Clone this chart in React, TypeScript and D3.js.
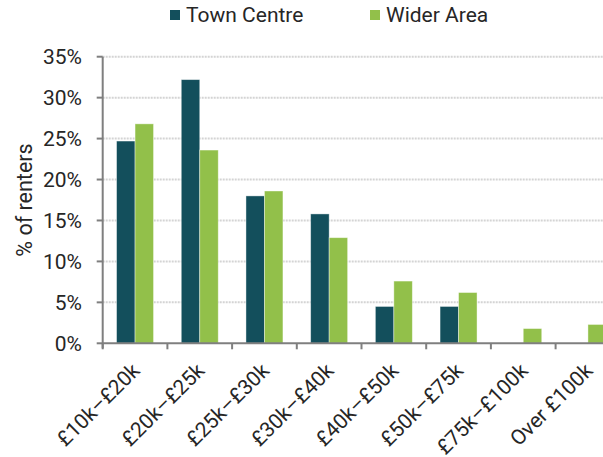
import React from "react";
import * as d3 from "d3";

const categories = ["£10k–£20k", "£20k–£25k", "£25k–£30k", "£30k–£40k", "£40k–£50k", "£50k–£75k", "£75k–£100k", "Over £100k"];
const seriesNames = ["Town Centre", "Wider Area"];
const townCentre = [24.7, 32.2, 18.0, 15.8, 4.5, 4.5, 0, 0];
const widerArea = [26.8, 23.6, 18.6, 12.9, 7.6, 6.2, 1.8, 2.3];
const yTicks = [0, 5, 10, 15, 20, 25, 30, 35];
const colors = ["#134F5C", "#92C04A"];

const W = 603;
const H = 457;
const FONT = "Roboto, 'Noto Sans', sans-serif";
const TEXT = "#262626";
const FS = 21;

export default function App() {
  const x0 = 102.7;
  const plotRight = x0 + 8 * 64.7;
  const y = d3.scaleLinear().domain([0, 35]).range([343.3, 56.7]);
  const x = d3.scaleBand<string>().domain(categories).range([x0, plotRight]).paddingInner(0).paddingOuter(0);
  const xs = d3.scaleBand<string>().domain(seriesNames).range([0, x.bandwidth()]).paddingInner(0).paddingOuter(0.75);
  const data = [townCentre, widerArea];

  return (
    <div style={{ position: "absolute", left: 0, top: 0 }}>
      <svg width={W} height={H} style={{ display: "block", background: "#fff" }}>
        {/* gridlines */}
        {yTicks.filter((t) => t > 0).map((t) => (
          <line key={"g" + t} x1={x0} x2={W} y1={y(t)} y2={y(t)} stroke="#d4d4d4" strokeWidth={2} strokeDasharray="2 1" />
        ))}
        {/* bars */}
        {categories.map((c, i) => (
          <g key={c}>
            {seriesNames.map((s, j) => {
              const v = data[j][i];
              if (v <= 0) return null;
              return (
                <rect
                  key={s}
                  x={(x(c) as number) + (xs(s) as number)}
                  y={y(v)}
                  width={xs.bandwidth()}
                  height={y(0) - y(v)}
                  fill={colors[j]}
                  stroke="#ffffff"
                  strokeOpacity={0.5}
                  strokeWidth={0.8}
                />
              );
            })}
          </g>
        ))}
        {/* y axis */}
        <line x1={x0} x2={x0} y1={y(35)} y2={y(0) + 5} stroke="#7f7f7f" strokeWidth={2} />
        {yTicks.map((t) => (
          <g key={"yt" + t}>
            <line x1={x0 - 6} x2={x0} y1={y(t)} y2={y(t)} stroke="#7f7f7f" strokeWidth={2} />
            <text x={82} y={y(t)} dy="0.36em" textAnchor="end" fontFamily={FONT} fontSize={FS} fill={TEXT}>
              {t + "%"}
            </text>
          </g>
        ))}
        {/* x axis */}
        <line x1={x0} x2={W} y1={y(0)} y2={y(0)} stroke="#7f7f7f" strokeWidth={2} />
        {categories.map((c, i) => (
          <line key={"xt" + c} x1={x0 + i * x.step()} x2={x0 + i * x.step()} y1={y(0)} y2={y(0) + 6} stroke="#7f7f7f" strokeWidth={2} />
        ))}
        {categories.map((c) => {
          const cx = (x(c) as number) + x.bandwidth() / 2 + 6;
          const cy = 372;
          return (
            <text
              key={"xl" + c}
              x={cx}
              y={cy}
              textAnchor="end"
              transform={`rotate(-45 ${cx} ${cy})`}
              fontFamily={FONT}
              fontSize={FS}
              fill={TEXT}
            >
              {c}
            </text>
          );
        })}
        {/* y title */}
        <text
          transform={`translate(32 200) rotate(-90)`}
          textAnchor="middle"
          fontFamily={FONT}
          fontSize={21.5}
          fill={TEXT}
        >
          % of renters
        </text>
        {/* legend */}
        {seriesNames.map((s, j) => {
          const lx = j === 0 ? 170 : 370;
          return (
            <g key={"lg" + s}>
              <rect x={lx} y={10} width={10} height={10} fill={colors[j]} />
              <text x={lx + 16} y={22} fontFamily={FONT} fontSize={FS} fill={TEXT}>
                {s}
              </text>
            </g>
          );
        })}
      </svg>
    </div>
  );
}
